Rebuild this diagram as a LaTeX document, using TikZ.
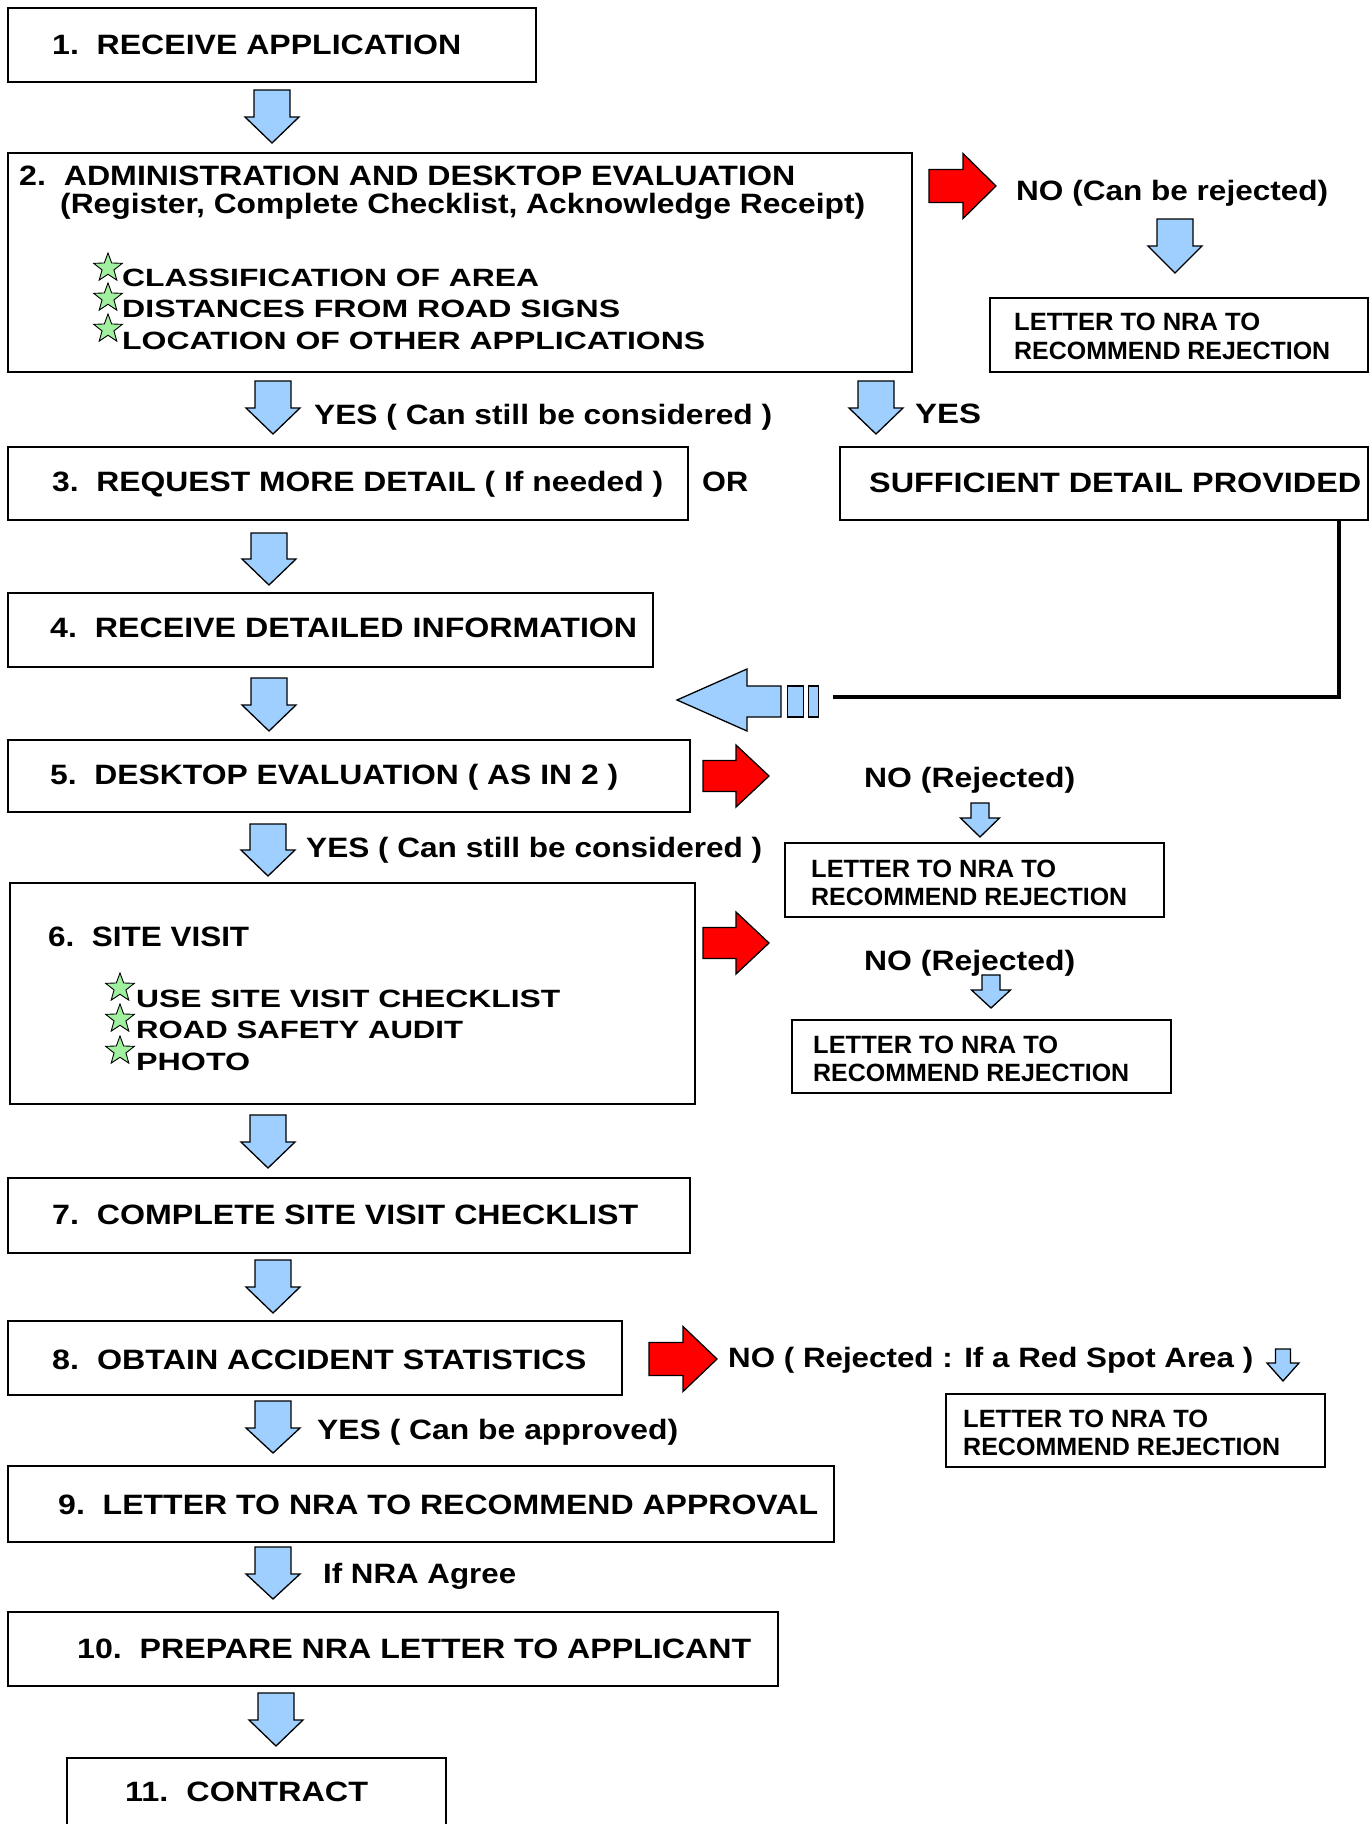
\documentclass[tikz,border=0pt]{standalone}
\usepackage{fontspec}
\setmainfont{Liberation Sans}
\usepackage{graphicx}
\usetikzlibrary{shapes.geometric,calc}
\definecolor{ablue}{HTML}{9FCFFF}
\definecolor{ared}{HTML}{FF0000}
\definecolor{sgreen}{HTML}{A0F0A0}
\newcommand\fw[2]{\resizebox{#1pt}{\height}{#2}}
\newcommand\mf{\fontsize{28}{32}\selectfont\bfseries}
\newcommand\itf{\fontsize{25}{28}\selectfont\bfseries}
\newcommand\lf{\fontsize{25}{28}\selectfont\bfseries}
% down block arrow: x centre, y top, total width, total length, shaft width, shaft length, style
\newcommand\dnarrow[7]{%
  \draw[#7] ({#1-#5/2},{#2}) -- ({#1+#5/2},{#2}) -- ({#1+#5/2},{#2+#6}) -- ({#1+#3/2},{#2+#6})
    -- ({#1},{#2+#4}) -- ({#1-#3/2},{#2+#6}) -- ({#1-#5/2},{#2+#6}) -- cycle;}
% right block arrow: x left, y centre, total length, total height, shaft height, shaft length, style
\newcommand\rtarrow[7]{%
  \draw[#7] ({#1},{#2-#5/2}) -- ({#1+#6},{#2-#5/2}) -- ({#1+#6},{#2-#4/2}) -- ({#1+#3},{#2})
    -- ({#1+#6},{#2+#4/2}) -- ({#1+#6},{#2+#5/2}) -- ({#1},{#2+#5/2}) -- cycle;}
\begin{document}
\begin{tikzpicture}[x=1pt,y=-1pt,
  box/.style={draw=black, line width=1.6pt, anchor=north west, inner sep=0pt, fill=white},
  lbl/.style={anchor=base west, inner sep=0pt, font=\mf},
  itm/.style={anchor=base west, inner sep=0pt, font=\itf},
  ltr/.style={anchor=base west, inner sep=0pt, font=\lf},
  bluearrow/.style={draw=black, line width=1.3pt, fill=ablue, line join=miter},
  redarrow/.style={draw=black, line width=1.3pt, fill=ared, line join=miter},
  bstar/.style={star, star points=5, star point ratio=2.4, draw=black, line width=0.9pt,
    fill=sgreen, minimum size=30pt, inner sep=0pt},
  tailbar/.style={draw=black, line width=1.2pt, fill=ablue, inner sep=0pt, anchor=west, minimum height=31pt},
]
\useasboundingbox (0,0) rectangle (1372,1824);
\fill[white] (0,0) rectangle (1372,1824);
\clip (0,0) rectangle (1372,1824);

% ---- boxes
\node[box, minimum width=528pt, minimum height=74pt] (b1) at (7,7) {};
\node[box, minimum width=904pt, minimum height=219pt] (b2) at (7,152) {};
\node[box, minimum width=378pt, minimum height=74pt] (L2) at (989,297) {};
\node[box, minimum width=680pt, minimum height=73pt] (b3) at (7,446) {};
\node[box, minimum width=528pt, minimum height=73pt] (suf) at (839,446) {};
\node[box, minimum width=645pt, minimum height=74pt] (b4) at (7,592) {};
\node[box, minimum width=682pt, minimum height=72pt] (b5) at (7,739) {};
\node[box, minimum width=379pt, minimum height=74pt] (L5) at (784,842) {};
\node[box, minimum width=685pt, minimum height=221pt] (b6) at (9,882) {};
\node[box, minimum width=379pt, minimum height=73pt] (L6) at (791,1019) {};
\node[box, minimum width=682pt, minimum height=75pt] (b7) at (7,1177) {};
\node[box, minimum width=614pt, minimum height=74pt] (b8) at (7,1320) {};
\node[box, minimum width=379pt, minimum height=73pt] (L8) at (945,1393) {};
\node[box, minimum width=826pt, minimum height=76pt] (b9) at (7,1465) {};
\node[box, minimum width=770pt, minimum height=74pt] (b10) at (7,1611) {};
\node[box, minimum width=379pt, minimum height=90pt] (b11) at (66,1757) {};

% ---- texts
\node[lbl] (t1) at (52,54) {\fw{409}{1.\ \ RECEIVE APPLICATION}};
\node[lbl] (t2a) at (19,185) {\fw{776}{2.\ \ ADMINISTRATION AND DESKTOP EVALUATION}};
\node[lbl] (t2b) at (60,213) {\fw{805}{(Register, Complete Checklist, Acknowledge Receipt)}};
\node[itm] (i1) at (122,286) {\fw{417}{CLASSIFICATION OF AREA}};
\node[itm] (i2) at (122,317) {\fw{498}{DISTANCES FROM ROAD SIGNS}};
\node[itm] (i3) at (122,349) {\fw{583}{LOCATION OF OTHER APPLICATIONS}};
\node[bstar] (s1) at (108,268) {};
\node[bstar] (s2) at (108,298) {};
\node[bstar] (s3) at (108,329) {};

\node[lbl] (no2) at (1016,200) {\fw{312}{NO (Can be rejected)}};
\node[ltr] (l2a) at (1014,330) {\fw{246}{LETTER TO NRA TO}};
\node[ltr] (l2b) at (1014,359) {\fw{316}{RECOMMEND REJECTION}};

\node[lbl] (y2l) at (314,424) {\fw{458}{YES ( Can still be considered )}};
\node[lbl] (y2r) at (915,423) {\fw{66}{YES}};
\node[lbl] (t3) at (52,491) {\fw{611}{3.\ \ REQUEST MORE DETAIL ( If needed )}};
\node[lbl] (or) at (702,491) {\fw{46}{OR}};
\node[lbl] (tsuf) at (869,492) {\fw{492}{SUFFICIENT DETAIL PROVIDED}};
\node[lbl] (t4) at (50,637) {\fw{587}{4.\ \ RECEIVE DETAILED INFORMATION}};
\node[lbl] (t5) at (50,784) {\fw{568}{5.\ \ DESKTOP EVALUATION ( AS IN 2 )}};
\node[lbl] (no5) at (864,787) {\fw{211}{NO (Rejected)}};
\node[ltr] (l5a) at (811,877) {\fw{245}{LETTER TO NRA TO}};
\node[ltr] (l5b) at (811,905) {\fw{316}{RECOMMEND REJECTION}};
\node[lbl] (y5) at (306,857) {\fw{456}{YES ( Can still be considered )}};

\node[lbl] (t6) at (48,946) {\fw{201}{6.\ \ SITE VISIT}};
\node[itm] (j1) at (136,1007) {\fw{424}{USE SITE VISIT CHECKLIST}};
\node[itm] (j2) at (136,1038) {\fw{327}{ROAD SAFETY AUDIT}};
\node[itm] (j3) at (136,1070) {\fw{114}{PHOTO}};
\node[bstar] (s4) at (120,988) {};
\node[bstar] (s5) at (120,1019) {};
\node[bstar] (s6) at (120,1051) {};
\node[lbl] (no6) at (864,970) {\fw{211}{NO (Rejected)}};
\node[ltr] (l6a) at (813,1053) {\fw{245}{LETTER TO NRA TO}};
\node[ltr] (l6b) at (813,1081) {\fw{316}{RECOMMEND REJECTION}};

\node[lbl] (t7) at (52,1224) {\fw{586}{7.\ \ COMPLETE SITE VISIT CHECKLIST}};
\node[lbl] (t8) at (52,1369) {\fw{534}{8.\ \ OBTAIN ACCIDENT STATISTICS}};
\node[lbl] (no8) at (728,1367) {\fw{525}{NO ( Rejected : If a Red Spot Area )}};
\node[ltr] (l8a) at (963,1427) {\fw{245}{LETTER TO NRA TO}};
\node[ltr] (l8b) at (963,1455) {\fw{317}{RECOMMEND REJECTION}};
\node[lbl] (y8) at (317,1439) {\fw{361}{YES ( Can be approved)}};
\node[lbl] (t9) at (58,1514) {\fw{760}{9.\ \ LETTER TO NRA TO RECOMMEND APPROVAL}};
\node[lbl] (agree) at (323,1583) {\fw{193}{If NRA Agree}};
\node[lbl] (t10) at (77,1658) {\fw{674}{10.\ \ PREPARE NRA LETTER TO APPLICANT}};
\node[lbl] (t11) at (125,1801) {\fw{243}{11.\ \ CONTRACT}};

% ---- blue down block arrows
\dnarrow{272}{90}{54}{53}{36}{27}{bluearrow}
\dnarrow{273}{381}{54}{53}{36}{27}{bluearrow}
\dnarrow{876}{381}{54}{53}{36}{27}{bluearrow}
\dnarrow{269}{533}{54}{52}{36}{26}{bluearrow}
\dnarrow{269}{678}{54}{53}{36}{27}{bluearrow}
\dnarrow{268}{824}{54}{52}{36}{26}{bluearrow}
\dnarrow{268}{1115}{54}{53}{36}{27}{bluearrow}
\dnarrow{273}{1260}{54}{53}{36}{27}{bluearrow}
\dnarrow{273}{1401}{54}{52}{36}{27}{bluearrow}
\dnarrow{273}{1547}{54}{52}{36}{27}{bluearrow}
\dnarrow{276}{1693}{54}{53}{36}{27}{bluearrow}
\dnarrow{1175}{219}{54}{54}{36}{27}{bluearrow}
\dnarrow{980}{803}{39}{34}{18}{15}{bluearrow}
\dnarrow{991}{975}{39}{33}{18}{15}{bluearrow}
\dnarrow{1283}{1349}{32}{32}{15}{14}{bluearrow}

% ---- red block arrows
\rtarrow{929}{186}{67}{65}{33}{34}{redarrow}
\rtarrow{703}{776}{66}{62}{31}{33}{redarrow}
\rtarrow{703}{943}{66}{62}{31}{33}{redarrow}
\rtarrow{649}{1359}{68}{65}{33}{34}{redarrow}

% ---- big left arrow with tail bars and feedback line
\draw[bluearrow] (677,700) -- (747,669) -- (747,686) -- (781,686) -- (781,717) -- (747,717) -- (747,731) -- cycle;
\node[tailbar, minimum width=16pt] (bar1) at (787,701.5) {};
\node[tailbar, minimum width=10pt] (bar2) at (808,701.5) {};
\coordinate (ftail) at (833,697);
\draw[line width=4pt] ($(suf.south east)+(-30,0)$) |- (ftail);
\end{tikzpicture}
\end{document}
